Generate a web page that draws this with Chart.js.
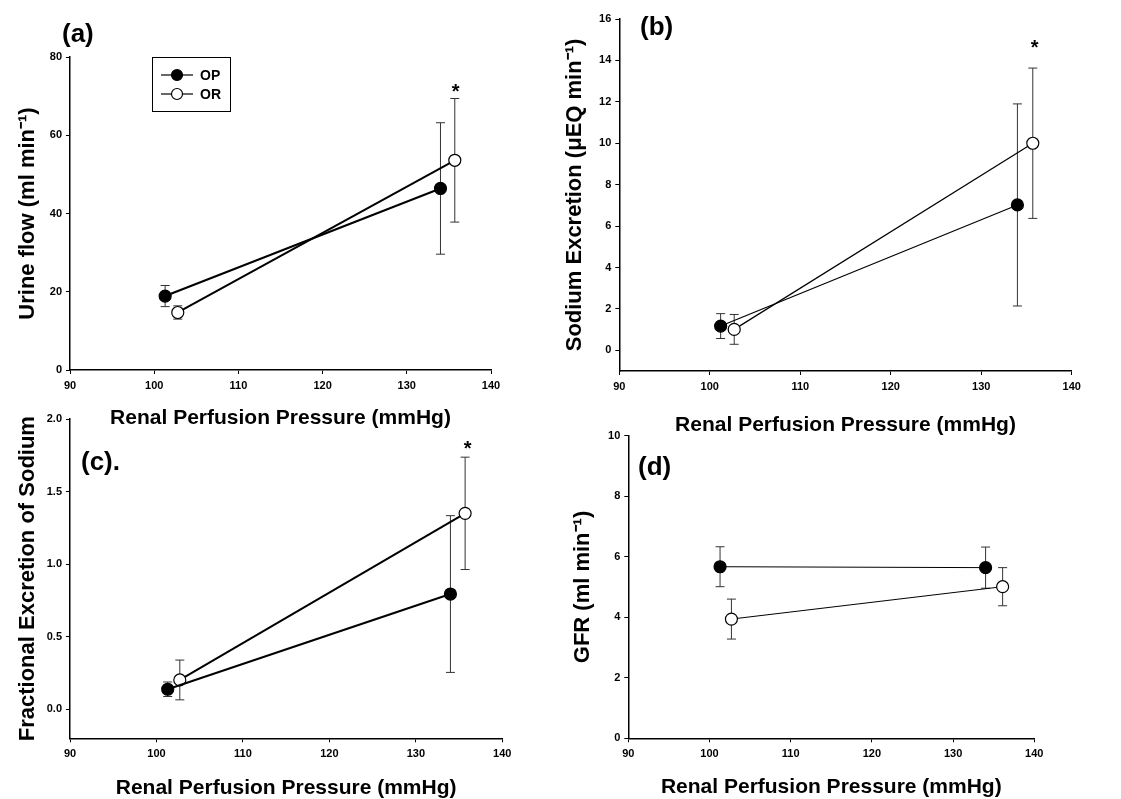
<!DOCTYPE html>
<html>
<head>
<meta charset="utf-8">
<script src="https://cdn.jsdelivr.net/npm/chart.js@4.4.1/dist/chart.umd.min.js"></script>
<style>
  body { margin: 0; background: #fff; width: 1121px; height: 799px; overflow: hidden; position: relative; }
  canvas { position: absolute; }
</style>
</head>
<body>
<canvas id="chartA" width="560" height="432" style="left:0;top:0"></canvas>
<canvas id="chartB" width="561" height="440" style="left:560px;top:0"></canvas>
<canvas id="chartC" width="560" height="399" style="left:0;top:400px"></canvas>
<canvas id="chartD" width="561" height="399" style="left:560px;top:400px"></canvas>
<script>
// shared x axis
const xTicks = [90, 100, 110, 120, 130, 140];
const xTitle = "Renal Perfusion Pressure (mmHg)";

// (a) urine flow
const urineTicks = [0, 20, 40, 60, 80];
const urineOpX = [101.3, 134.0];
const urineOpY = [18.9, 46.4];
const urineOpErr = [2.7, 16.8];
const urineOrX = [102.8, 135.7];
const urineOrY = [14.7, 53.6];
const urineOrErr = [1.7, 15.8];

// (b) sodium excretion
const sodiumTicks = [0, 2, 4, 6, 8, 10, 12, 14, 16];
const sodiumOpX = [101.2, 134.0];
const sodiumOpY = [1.17, 7.02];
const sodiumOpErr = [0.6, 4.88];
const sodiumOrX = [102.7, 135.7];
const sodiumOrY = [1.01, 10.0];
const sodiumOrErr = [0.72, 3.63];

// (c) fractional excretion
const fracTicks = [0, 0.5, 1.0, 1.5, 2.0];
const fracOpX = [101.3, 134.0];
const fracOpY = [0.138, 0.794];
const fracOpErr = [0.05, 0.54];
const fracOrX = [102.7, 135.7];
const fracOrY = [0.202, 1.35];
const fracOrErr = [0.137, 0.387];

// (d) GFR
const gfrTicks = [0, 2, 4, 6, 8, 10];
const gfrOpX = [101.3, 134.0];
const gfrOpY = [5.67, 5.64];
const gfrOpErr = [0.66, 0.68];
const gfrOrX = [102.7, 136.1];
const gfrOrY = [3.94, 5.01];
const gfrOrErr = [0.66, 0.63];

const FONT = "'Liberation Sans', Arial, sans-serif";

// panel labels, error bars, significance star, legend box
const extrasPlugin = {
  id: "extras",
  beforeDatasetsDraw(chart, args, opts) {
    const ctx = chart.ctx;
    const xs = chart.scales.x, ys = chart.scales.y;
    ctx.save();
    ctx.strokeStyle = "#333";
    ctx.lineWidth = 1;
    chart.data.datasets.forEach((ds, i) => {
      const errs = opts.errors[i];
      ds.data.forEach((p, j) => {
        const px = xs.getPixelForValue(p.x);
        const top = ys.getPixelForValue(p.y + errs[j]);
        const bot = ys.getPixelForValue(p.y - errs[j]);
        ctx.beginPath();
        ctx.moveTo(px, top); ctx.lineTo(px, bot);
        ctx.moveTo(px - 4.5, top); ctx.lineTo(px + 4.5, top);
        ctx.moveTo(px - 4.5, bot); ctx.lineTo(px + 4.5, bot);
        ctx.stroke();
      });
    });
    ctx.restore();
  },
  afterDraw(chart, args, opts) {
    const ctx = chart.ctx;
    ctx.save();
    ctx.fillStyle = "#000";
    ctx.font = "bold 26px " + FONT;
    ctx.textAlign = "left";
    ctx.textBaseline = "middle";
    ctx.fillText(opts.label, opts.labelPos[0], opts.labelPos[1]);

    if (opts.star) {
      const sx = chart.scales.x.getPixelForValue(opts.star[0]);
      const sy = chart.scales.y.getPixelForValue(opts.star[1]);
      ctx.font = "bold 20px " + FONT;
      ctx.textAlign = "center";
      ctx.textBaseline = "alphabetic";
      ctx.fillText("*", sx, sy + 11);
    }

    if (opts.legend) {
      const [bx, by, bw, bh] = opts.legend;
      ctx.strokeStyle = "#000";
      ctx.lineWidth = 1;
      ctx.strokeRect(bx + 0.5, by + 0.5, bw, bh);
      chart.data.datasets.forEach((ds, i) => {
        const ly = by + 18 + i * 19;
        ctx.beginPath();
        ctx.moveTo(bx + 9, ly); ctx.lineTo(bx + 41, ly);
        ctx.lineWidth = 1.2;
        ctx.stroke();
        ctx.beginPath();
        ctx.arc(bx + 25, ly, 5.5, 0, Math.PI * 2);
        ctx.fillStyle = ds.pointBackgroundColor;
        ctx.fill();
        ctx.stroke();
        ctx.fillStyle = "#000";
        ctx.font = "bold 14px " + FONT;
        ctx.textAlign = "left";
        ctx.textBaseline = "middle";
        ctx.fillText(ds.label, bx + 48, ly + 1);
      });
    }
    ctx.restore();
  }
};

function series(label, xs, ys, fill, width) {
  return {
    label: label,
    data: xs.map((x, i) => ({ x: x, y: ys[i] })),
    showLine: true,
    borderColor: "#000",
    borderWidth: width,
    pointRadius: 6,
    pointBorderWidth: 1.2,
    pointBackgroundColor: fill,
    pointBorderColor: "#000"
  };
}

function makePanel(id, cfg) {
  const canvas = document.getElementById(id);
  const W = canvas.width, H = canvas.height;
  const tickFont = { family: FONT, size: 11, weight: "bold" };
  const xTitleFont = { family: FONT, size: 21, weight: "bold", lineHeight: 1 };
  const yTitleFont = { family: FONT, size: 22, weight: "bold", lineHeight: 1 };
  return new Chart(canvas, {
    type: "scatter",
    data: {
      datasets: [
        series("OP", cfg.opX, cfg.opY, "#000", cfg.lineWidth),
        series("OR", cfg.orX, cfg.orY, "#fff", cfg.lineWidth)
      ]
    },
    options: {
      responsive: false,
      animation: false,
      layout: { padding: { top: cfg.area[1], right: W - cfg.area[2], left: 0, bottom: 0 } },
      plugins: {
        legend: { display: false },
        tooltip: { enabled: false },
        extras: {
          label: cfg.label,
          labelPos: cfg.labelPos,
          errors: [cfg.opErr, cfg.orErr],
          star: cfg.star,
          legend: cfg.legend
        }
      },
      scales: {
        x: {
          type: "linear",
          min: 90, max: 140,
          afterBuildTicks: s => { s.ticks = xTicks.map(v => ({ value: v })); },
          afterFit: s => { s.height = H - cfg.area[3]; },
          border: { color: "#000", width: 1.5 },
          grid: { drawOnChartArea: false, color: "#000", tickLength: 4 },
          ticks: { color: "#000", font: tickFont, padding: 5, autoSkip: false, maxRotation: 0 },
          title: { display: true, text: xTitle, color: "#000", font: xTitleFont, padding: { bottom: cfg.xTitlePad, top: 0 } }
        },
        y: {
          type: "linear",
          min: cfg.yMin, max: cfg.yMax,
          afterBuildTicks: s => { s.ticks = cfg.yTicks.map(v => ({ value: v })); },
          afterFit: s => { s.width = cfg.area[0]; },
          border: { color: "#000", width: 1.5 },
          grid: { drawOnChartArea: false, color: "#000", tickLength: 4 },
          ticks: {
            color: "#000", font: tickFont, padding: 4, autoSkip: false,
            callback: v => cfg.tickFmt ? v.toFixed(1) : String(v)
          },
          title: { display: true, text: cfg.yTitle, color: "#000", font: yTitleFont, padding: { top: cfg.yTitlePad, bottom: 0 } }
        }
      }
    },
    plugins: [extrasPlugin]
  });
}

makePanel("chartA", {
  opX: urineOpX, opY: urineOpY, opErr: urineOpErr,
  orX: urineOrX, orY: urineOrY, orErr: urineOrErr,
  yMin: 0, yMax: 80, yTicks: urineTicks,
  yTitle: "Urine flow (ml min\u207B\u00B9)",
  area: [70, 57, 491, 370], xTitlePad: 3.5, yTitlePad: 17,
  lineWidth: 2, label: "(a)", labelPos: [62, 35],
  star: [135.8, 72.3], legend: [152, 57, 78, 54]
});

makePanel("chartB", {
  opX: sodiumOpX, opY: sodiumOpY, opErr: sodiumOpErr,
  orX: sodiumOrX, orY: sodiumOrY, orErr: sodiumOrErr,
  yMin: -1, yMax: 16, yTicks: sodiumTicks,
  yTitle: "Sodium Excretion (\u03BCEQ min\u207B\u00B9)",
  area: [59.3, 19, 511.7, 371], xTitlePad: 4.5, yTitlePad: 4,
  lineWidth: 1.2, label: "(b)", labelPos: [80, 28],
  star: [135.9, 14.84], legend: null
});

makePanel("chartC", {
  opX: fracOpX, opY: fracOpY, opErr: fracOpErr,
  orX: fracOrX, orY: fracOrY, orErr: fracOrErr,
  yMin: -0.2, yMax: 2.0, yTicks: fracTicks, tickFmt: true,
  yTitle: "Fractional Excretion of Sodium",
  area: [70, 19, 502.3, 338.3], xTitlePad: 0.5, yTitlePad: 17,
  lineWidth: 2, label: "(c).", labelPos: [81, 63],
  star: [136.0, 1.827], legend: null
});

makePanel("chartD", {
  opX: gfrOpX, opY: gfrOpY, opErr: gfrOpErr,
  orX: gfrOrX, orY: gfrOrY, orErr: gfrOrErr,
  yMin: 0, yMax: 10, yTicks: gfrTicks,
  yTitle: "GFR (ml min\u207B\u00B9)",
  area: [68.3, 35.7, 474.3, 338.3], xTitlePad: 1.5, yTitlePad: 12,
  lineWidth: 1, label: "(d)", labelPos: [78, 68],
  star: null, legend: null
});
</script>
</body>
</html>
